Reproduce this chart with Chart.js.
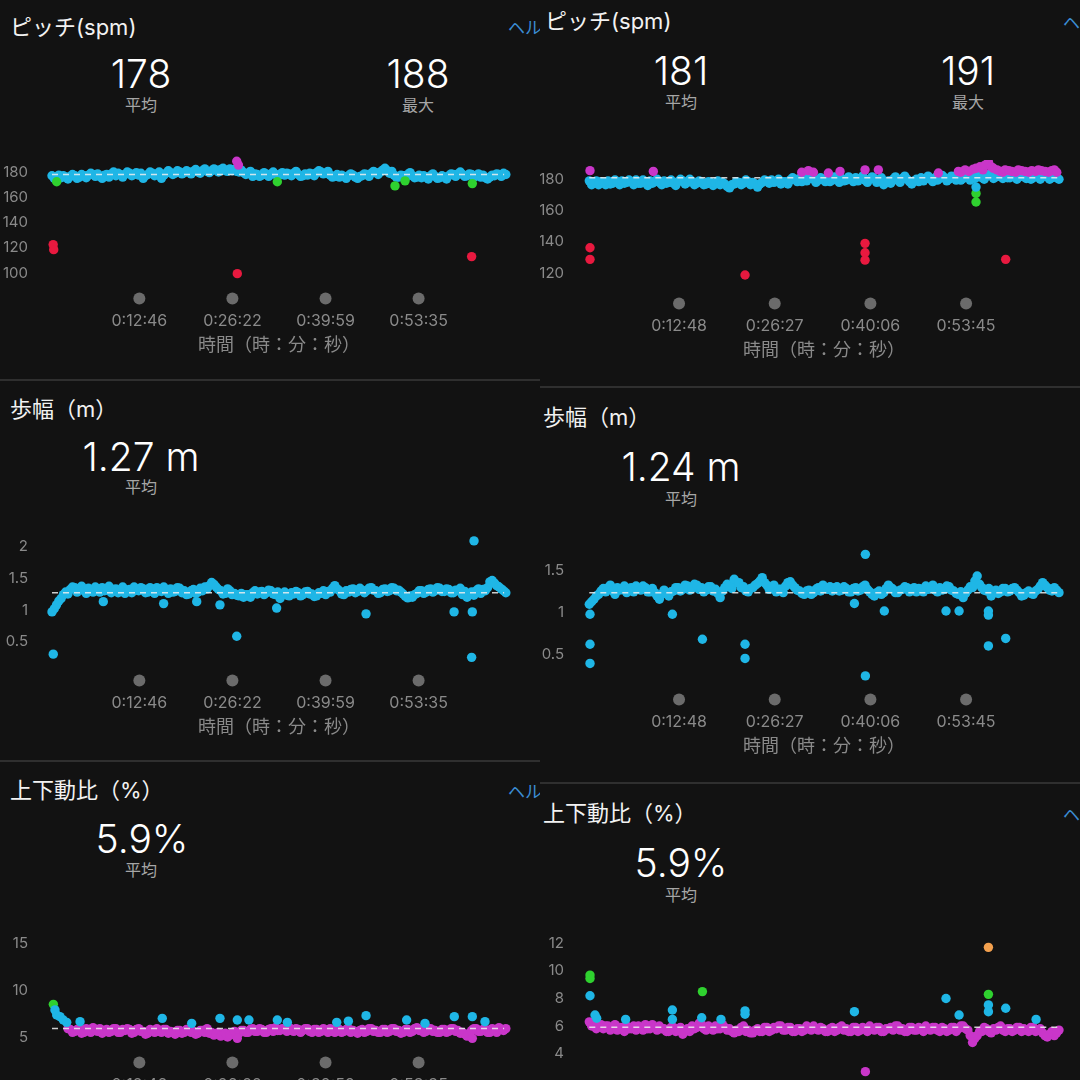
<!DOCTYPE html>
<html>
<head>
<meta charset="utf-8">
<script src="https://cdn.jsdelivr.net/npm/chart.js@4.4.1/dist/chart.umd.min.js"></script>
<style>
  html, body { margin:0; padding:0; width:1080px; height:1080px; overflow:hidden; background:#121212; }
  body { font-family:'Inter','Noto Sans CJK JP',sans-serif; }
  .col { position:absolute; top:0; width:540px; height:1080px; overflow:hidden; }
  .col canvas { position:absolute; left:0; }
  .hr { position:absolute; left:0; width:540px; height:2px; background:#2f2f2f; }
  .ttl { position:absolute; white-space:nowrap; transform:translateY(-50%); font-size:22px; color:#f2f2f2; line-height:1; }
  .tx { position:absolute; white-space:nowrap; transform:translate(-50%,-50%); line-height:1; }
  .big { font-size:39px; font-weight:300; color:#fff; }
  .sub { font-size:16px; color:#a6a6a6; }
  .help { position:absolute; white-space:nowrap; transform:translateY(-50%); font-size:17px; color:#3b8dd4; line-height:1; }
</style>
</head>
<body>
<div class="col" id="colL" style="left:0">
  <div class="ttl" style="left:10px;top:27px">ピッチ(spm)</div>
  <div class="help" style="left:508px;top:28px">ヘルプ</div>
  <div class="tx big" style="left:141px;top:73px">178</div>
  <div class="tx sub" style="left:141px;top:105px">平均</div>
  <div class="tx big" style="left:418px;top:73px">188</div>
  <div class="tx sub" style="left:418px;top:105px">最大</div>
  <canvas id="cadL" width="540" height="227" style="top:131px"></canvas>
  <div class="hr" style="top:379px"></div>

  <div class="ttl" style="left:10px;top:409px">歩幅（m）</div>
  <div class="tx big" style="left:141px;top:456px">1.27 m</div>
  <div class="tx sub" style="left:141px;top:487px">平均</div>
  <canvas id="strideL" width="540" height="234" style="top:506px"></canvas>
  <div class="hr" style="top:760px"></div>

  <div class="ttl" style="left:10px;top:790px">上下動比（%）</div>
  <div class="help" style="left:508px;top:792px">ヘルプ</div>
  <div class="tx big" style="left:142px;top:838px">5.9%</div>
  <div class="tx sub" style="left:141px;top:870px">平均</div>
  <canvas id="vrL" width="540" height="211" style="top:911px"></canvas>
</div>

<div class="col" id="colR" style="left:540px">
  <div class="ttl" style="left:5px;top:21px">ピッチ(spm)</div>
  <div class="help" style="left:523px;top:23px">ヘルプ</div>
  <div class="tx big" style="left:141px;top:70px">181</div>
  <div class="tx sub" style="left:141px;top:102px">平均</div>
  <div class="tx big" style="left:428px;top:70px">191</div>
  <div class="tx sub" style="left:428px;top:102px">最大</div>
  <canvas id="cadR" width="540" height="227" style="top:136px"></canvas>
  <div class="hr" style="top:386px"></div>

  <div class="ttl" style="left:3px;top:417px">歩幅（m）</div>
  <div class="tx big" style="left:141px;top:466px">1.24 m</div>
  <div class="tx sub" style="left:141px;top:499px">平均</div>
  <canvas id="strideR" width="540" height="243" style="top:516px"></canvas>
  <div class="hr" style="top:782px"></div>

  <div class="ttl" style="left:3px;top:813px">上下動比（%）</div>
  <div class="help" style="left:523px;top:815px">ヘルプ</div>
  <div class="tx big" style="left:141px;top:862px">5.9%</div>
  <div class="tx sub" style="left:141px;top:895px">平均</div>
  <canvas id="vrR" width="540" height="257" style="top:906px"></canvas>
</div>

<script>
// samples every 40 s; the *_B arrays are the in-between samples (offset 20 s)
const SAMPLE_SEC = 40;
const X_TICKS_L = [766, 1582, 2399, 3215];
const X_TICKS_R = [768, 1587, 2406, 3225];

// ---- pitch (spm), left run
const Y_TICKS_CAD_L = [100, 120, 140, 160, 180];
const CAD_L_AVG = 178;
const CAD_L = [177,176,175.5,176,176.5,177,176,177,177.5,178, 178.5,175,178,178.5,177,178,178,179,178,177.5,
  175,178,179,178.5,175,179,179.5,179,180,179.5, 180,180.5,180,181,180.5,181,181.5,182,181,182.5,
  182,180,179.5,179,176.5,178,177.5,178,178.5,178, 178,177.5,178.5,179,178,177,177.5,178.5,179.5,180,
  179,177.5,176.5,176,176.5,177,177.5,175,177,178, 179,179.5,180,183,179,177.5,176,177,178,177,
  176,175.5,176,177,176.5,175.5,176,177,178,178.5, 178,177,178,177,176,175.5,176,177,178,179];
const CAD_L_B = [175,177.5,177,174.5,178,175,178,175.5,179,176.5, 176.5,177.5,176,180,179,176,180,177,179.5,179,
  177,180,177,180,177.5,181,178,181,178.5,181, 178.5,182,179,182.5,179.5,182.5,180,183,180.5,181,
  180.5,181.5,178,180.5,178.5,176.5,179.5,176.5,180,176.5, 179.5,179,177,180.5,176.5,178.5,179,177,181,178.5,
  180.5,176,178,177.5,175,178.5,176,176.5,178.5,176.5, 180.5,178,181.5,181,180.5,176,177.5,175.5,179.5,175.5,
  177.5,177,174.5,178.5,175,177,174.5,178.5,176.5,180, 176.5,178.5,176,178.5,177.5,174.5,177.5,178.5,176.5,178];
const CAD_L_MAGENTA = [[1620,188.5],[1635,185.5]];
const CAD_L_GREEN = [[41,172.3],[1976,172.3],[3008,169],[3096,173],[3686,170.8]];
const CAD_L_RED = [[10,122.5],[15,118.5],[1625,99.5],[3680,113]];

// ---- pitch (spm), right run
const Y_TICKS_CAD_R = [120, 140, 160, 180];
const CAD_R_AVG = 181;
const CAD_R = [179,177.5,176.5,178,179,177.5,178.5,179,178,178.5, 179.5,177.5,178,179,178.5,178,179,178,177.5,178.5,
  179,178,178.5,177.5,178,177,178,177.5,176.5,177, 174.5,177,178,177.5,178.5,178,175,178,179,179.5,
  178.5,177,178.5,179.5,180,180.5,181,180.5,180,179.5, 180,180.5,179.5,180,180.5,179.5,180,181,180.5,179.5,
  180,180.5,179,176.5,179,180,179.5,180.5,180,177, 180,181,180.5,180,181,180.5,181,180,181.5,181,
  180.5,181.5,182,181.5,181,182,182.5,181.5,182,182.5, 181,181.5,182,181.5,182,181,181.5,182,181.5,181,181];
const CAD_R_B = [176.5,179,178.5,176.5,177,179.5,176.5,177.5,179.5,176.5, 177.5,179.5,176,177.5,180,176.5,177.5,179.5,176,180,
  177,180,176.5,179,176.5,178.5,176,179,178,175.5, 176.5,178.5,176.5,179.5,176.5,177,177,179.5,177.5,178,
  180,178.5,177,181,178.5,178.5,179,182,178,181, 178.5,178.5,181.5,178,179,181.5,178.5,179,182,178,
  181.5,178,181,178,177.5,181.5,178,182,178.5,179, 178.5,179,182,178.5,179.5,182.5,179,182,179.5,179.5,
  182.5,179.5,180.5,183,180,183,180.5,183,180.5,181, 183,180,183,180.5,180,183,180,183,180,182.5,180];
const CAD_R_MAGENTA = [[6,185.5],[548,185],[1818,184.5],[1875,185.5],[1918,184.5],[2046,184],[2146,185],[2360,186],
  [2474,186],[2988,184],[3159,185],[3180,184.5],[3216,186],[3250,185],[3287,186.5],[3310,187],[3344,188],[3370,186],
  [3387,189],[3416,191],[3440,188],[3459,187],[3490,186],[3516,185],[3540,184.5],[3559,186],[3590,185.5],[3616,185],
  [3650,184.5],[3672,186],[3700,185.5],[3730,185],[3760,184.5],[3787,185.5],[3820,185],[3844,186],[3870,185.5],
  [3901,185],[3930,184.5],[3958,185.5],[3980,186],[4001,184.5]];
const CAD_R_CYAN = [[3310,175]];
const CAD_R_GREEN = [[3310,171],[3310,165.5]];
const CAD_R_RED = [[6,136.3],[6,128.9],[1333,118.9],[2360,139.1],[2360,133.1],[2360,128.4],[3564,128.9]];

// ---- stride (m)
const Y_TICKS_STRIDE_L = [0.5, 1, 1.5, 2];
const STRIDE_L_AVG = 1.27;
const STRIDE_L = [0.97,1.08,1.18,1.28,1.32,1.35,1.33,1.3,1.34,1.28, 1.33,1.35,1.31,1.27,1.33,1.3,1.26,1.32,1.36,1.3,
  1.33,1.28,1.32,1.35,1.29,1.31,1.33,1.29,1.34,1.3, 1.25,1.32,1.28,1.3,1.33,1.43,1.36,1.3,1.26,1.3,
  1.26,1.22,1.2,1.24,1.27,1.25,1.29,1.27,1.3,1.24, 1.18,1.28,1.22,1.25,1.27,1.24,1.29,1.25,1.22,1.26,
  1.24,1.28,1.38,1.3,1.24,1.28,1.33,1.29,1.31,1.3, 1.35,1.3,1.27,1.33,1.3,1.34,1.31,1.25,1.19,1.2,
  1.26,1.3,1.28,1.33,1.3,1.34,1.29,1.32,1.27,1.3, 1.24,1.2,1.28,1.3,1.26,1.3,1.44,1.42,1.36,1.3];
const STRIDE_L_B = [1.02,1.14,1.24,1.25,1.36,1.28,1.37,1.26,1.31,1.36, 1.28,1.3,1.37,1.32,1.27,1.36,1.31,1.27,1.31,1.35,
  1.27,1.35,1.26,1.3,1.36,1.26,1.28,1.35,1.27,1.24, 1.3,1.26,1.34,1.36,1.38,1.4,1.32,1.25,1.33,1.24,
  1.23,1.26,1.24,1.2,1.3,1.28,1.24,1.31,1.25,1.28, 1.24,1.23,1.27,1.29,1.22,1.28,1.25,1.21,1.27,1.3,
  1.29,1.34,1.33,1.25,1.3,1.32,1.27,1.34,1.27,1.34, 1.31,1.26,1.32,1.29,1.35,1.3,1.28,1.21,1.22,1.24,
  1.3,1.26,1.32,1.28,1.35,1.29,1.33,1.27,1.31,1.34, 1.29,1.25,1.23,1.33,1.32,1.35,1.46,1.38,1.33,1.27];
const STRIDE_L_OUT = [[11,0.31],[450,1.13],[979,1.1],[1269,1.13],[1473,1.08],[1620,0.59],[1970,1.03],[2754,0.94],
  [3526,0.97],[3686,0.97],[3680,0.26],[3701,2.08]];

const Y_TICKS_STRIDE_R = [0.5, 1, 1.5];
const STRIDE_R_AVG = 1.24;
const STRIDE_R = [1.1,1.16,1.22,1.29,1.3,1.26,1.3,1.28,1.24,1.3, 1.32,1.27,1.3,1.25,1.24,1.16,1.27,1.2,1.26,1.3,
  1.28,1.32,1.29,1.33,1.3,1.27,1.31,1.28,1.18,1.3, 1.33,1.4,1.36,1.31,1.25,1.3,1.35,1.42,1.33,1.3,
  1.25,1.28,1.32,1.37,1.3,1.26,1.22,1.27,1.24,1.3, 1.33,1.28,1.26,1.31,1.27,1.29,1.25,1.3,1.27,1.33,
  1.25,1.2,1.26,1.24,1.33,1.28,1.24,1.28,1.3,1.27, 1.25,1.28,1.32,1.29,1.27,1.3,1.28,1.31,1.26,1.22,
  1.18,1.27,1.3,1.44,1.3,1.26,1.2,1.27,1.25,1.29, 1.26,1.3,1.24,1.21,1.26,1.22,1.28,1.36,1.3,1.26,1.27];
const STRIDE_R_B = [1.13,1.2,1.26,1.25,1.33,1.22,1.27,1.32,1.29,1.25, 1.28,1.32,1.25,1.29,1.2,1.22,1.23,1.25,1.3,1.26,
  1.33,1.27,1.34,1.28,1.25,1.31,1.26,1.23,1.26,1.34, 1.29,1.36,1.3,1.26,1.29,1.33,1.38,1.36,1.28,1.33,
  1.28,1.24,1.36,1.33,1.27,1.23,1.26,1.22,1.28,1.26, 1.29,1.31,1.3,1.26,1.31,1.25,1.29,1.26,1.31,1.28,
  1.22,1.24,1.22,1.29,1.3,1.24,1.27,1.31,1.25,1.3, 1.29,1.25,1.28,1.33,1.25,1.27,1.32,1.27,1.23,1.25,
  1.23,1.31,1.38,1.34,1.27,1.29,1.24,1.23,1.29,1.25, 1.29,1.27,1.2,1.24,1.23,1.26,1.32,1.33,1.27,1.3,1.24];
const STRIDE_R_OUT = [[6,0.98],[6,0.62],[6,0.39],[711,0.98],[968,0.68],[1333,0.62],[1333,0.45],[2269,1.11],
  [2363,1.7],[2363,0.24],[2525,1.02],[3053,1.02],[3165,1.02],[3416,1.02],[3416,0.97],[3416,0.6],[3564,0.69]];

// ---- vertical ratio (%)
const Y_TICKS_VR_L = [5, 10, 15];
const VR_L_AVG = 5.9;
const VR_L = [null,null,null,null,5.8,5.6,5.9,5.5,5.7,6.0, 5.6,5.4,5.8,5.6,5.9,5.5,5.7,5.8,5.5,5.9,
  5.6,5.4,5.7,5.9,5.5,5.8,5.6,5.3,5.7,5.5, 5.8,5.6,5.4,5.7,5.9,5.5,5.3,5.1,5.4,5.2,
  5.6,5.4,5.7,5.5,5.9,5.6,5.8,5.5,5.9,6.0, 5.7,5.8,6.0,5.6,5.8,5.7,5.9,5.5,5.8,5.6,
  5.7,5.9,5.5,5.8,5.6,5.9,5.7,5.4,5.8,5.6, 5.9,5.7,5.5,5.8,5.6,5.9,5.7,5.5,5.8,5.6,
  6.0,5.8,5.6,5.9,5.7,5.5,5.8,5.6,5.9,5.7, 5.5,5.1,5.7,5.9,5.6,5.8,5.5,5.7,6.0,5.7];
const VR_L_B = [null,null,null,5.9,5.5,5.8,5.4,5.9,5.5,5.7, 5.9,5.7,5.5,5.9,5.5,5.8,5.9,5.4,5.8,5.6,
  5.3,5.8,5.5,5.6,5.8,5.4,5.5,5.7,5.4,5.8, 5.5,5.3,5.7,5.5,5.4,5.2,5.5,5.3,5.0,5.5,
  5.3,5.7,5.5,5.8,5.6,5.9,5.5,5.8,5.6,5.7, 5.9,5.6,5.7,5.9,5.5,5.9,5.6,5.8,5.5,5.9,
  5.5,5.6,5.9,5.5,5.8,5.5,5.6,5.7,5.5,5.9, 5.6,5.5,5.8,5.5,5.9,5.6,5.4,5.8,5.5,5.9,
  5.7,5.5,5.9,5.6,5.5,5.8,5.5,5.9,5.6,5.4, 5.3,5.4,5.9,5.6,5.8,5.5,5.9,5.5,5.8,5.9];
const VR_L_CYAN = [[26,7.9],[41,7.36],[70,7.18],[99,6.82],[129,6.57],[246,6.64],[967,7.0],[1225,6.46],[1473,7.0],
  [1625,6.82],[1727,6.82],[1976,6.82],[2064,6.57],[2497,6.57],[2599,6.7],[2754,7.29],[3110,6.82],[3271,6.46],
  [3528,7.18],[3686,7.18],[3797,6.64]];
const VR_L_GREEN = [[12,8.5]];
const VR_L_MAGENTA = [[1625,4.86],[3686,4.86]];

const Y_TICKS_VR_R = [4, 6, 8, 10, 12];
const VR_R_AVG = 5.9;
const VR_R = [6.3,6.1,6.0,5.8,6.0,5.9,5.7,5.9,6.0,5.8, 5.7,5.9,6.1,5.8,5.9,6.0,5.8,5.6,5.9,5.7,
  5.4,5.8,6.0,5.9,6.1,5.7,5.9,6.0,5.8,5.9, 5.8,5.5,5.6,6.0,5.7,5.5,5.8,5.6,5.9,5.7,
  5.8,6.0,5.7,5.9,5.6,5.8,5.7,5.9,6.0,5.7, 5.8,5.6,5.9,5.7,6.0,5.8,5.6,5.9,5.7,5.8,
  6.0,5.7,5.9,5.6,5.8,5.7,6.0,5.8,5.6,5.9, 5.7,5.8,6.0,5.7,5.9,5.6,5.8,5.7,5.9,5.8,
  6.0,5.7,4.8,5.3,5.6,5.8,5.5,5.7,6.0,5.6, 5.8,5.7,5.9,5.8,5.6,5.9,5.7,5.5,5.2,5.6,5.5];
const VR_R_B = [6.0,5.8,6.1,6.0,5.7,6.1,5.9,5.6,5.8,6.0, 6.0,5.7,5.8,6.1,5.7,5.8,5.6,5.9,5.6,5.9,
  5.6,5.6,5.8,6.2,5.8,6.0,5.7,5.8,6.1,5.7, 5.6,5.7,5.9,5.6,5.5,5.7,5.6,5.9,5.6,5.9,
  6.0,5.7,5.9,5.6,5.8,5.6,6.0,5.7,5.8,5.9, 5.6,5.8,5.6,5.9,5.7,5.6,5.9,5.6,5.9,5.6,
  5.8,5.9,5.6,5.8,5.9,6.0,5.7,5.6,5.9,5.7, 5.9,5.6,5.8,5.9,5.7,5.9,5.6,5.9,5.6,6.0,
  5.8,5.3,5.1,5.6,5.9,5.6,5.8,5.9,5.7,5.8, 5.6,5.9,5.6,5.7,5.9,5.6,5.8,5.3,5.4,5.3,5.7];
const VR_R_CYAN = [[6,8.2],[49,6.8],[63,6.56],[311,6.48],[711,7.16],[711,6.48],[962,6.6],[1127,6.48],[1333,7.1],
  [1333,6.85],[2269,7.04],[3053,8.0],[3165,6.8],[3416,7.53],[3416,7.04],[3564,7.29],[3824,6.48]];
const VR_R_GREEN = [[6,9.7],[6,9.45],[968,8.5],[3416,8.3]];
const VR_R_ORANGE = [[3416,11.72]];
const VR_R_MAGENTA = [[2363,2.68]];

const C = { cyan:'#1fb6e6', magenta:'#c936c9', green:'#2fd12f', red:'#e8193f', orange:'#f3a04e' };
const FONT = "'Inter','Noto Sans CJK JP',sans-serif";

const fmtTime = s => `${Math.floor(s/3600)}:${String(Math.floor(s%3600/60)).padStart(2,'0')}:${String(s%60).padStart(2,'0')}`;
const series = (vals, off = 0) => vals.map((v,i) => v == null ? null : {x:i*SAMPLE_SEC + off, y:v}).filter(Boolean);
const pts = arr => arr.map(([x,y]) => ({x, y}));

// grey markers above the time labels
const tickDots = {
  id:'tickDots',
  afterDraw(chart) {
    const {ctx, chartArea, scales:{x}} = chart;
    ctx.save();
    ctx.fillStyle = '#6b6b6b';
    x.ticks.forEach(t => { ctx.beginPath(); ctx.arc(x.getPixelForValue(t.value), chartArea.bottom + 13.5, 6, 0, Math.PI*2); ctx.fill(); });
    ctx.restore();
  }
};

const LEFT  = { xTicks:X_TICKS_L, xMin:-52.6, xMax:4034, yw:46, padR:28, yPad:10, tEnd:3965 };
const RIGHT = { xTicks:X_TICKS_R, xMin:-45.4, xMax:4063, yw:44, padR:16, yPad:12, tEnd:4005 };

function makeChart(id, side, o) {
  const datasets = [
    { type:'line', data:[{x:0,y:o.avg},{x:side.tEnd,y:o.avg}], borderColor:'rgba(238,238,238,0.85)', borderWidth:1.5,
      borderDash:[6,5], pointRadius:0, order:0 },
    ...o.sets.map(s => ({ data:s.data, backgroundColor:s.color, pointRadius:4.7, pointHoverRadius:4.7, borderWidth:0, order:s.main ? 2 : 1 }))
  ];
  return new Chart(document.getElementById(id), {
    type:'scatter',
    data:{ datasets },
    plugins:[tickDots],
    options:{
      responsive:false, animation:false, devicePixelRatio:1,
      layout:{ padding:{ top:24, right:side.padR, bottom:0, left:0 } },
      plugins:{ legend:{display:false}, tooltip:{enabled:false} },
      scales:{
        x:{ type:'linear', min:side.xMin, max:side.xMax, grid:{display:false}, border:{display:false},
            afterBuildTicks: ax => { ax.ticks = side.xTicks.map(v => ({value:v})); },
            afterFit: ax => { ax.height = 73; },
            ticks:{ color:'#8a8a8a', font:{size:16, family:FONT}, padding:19, maxRotation:0, autoSkip:false, callback: v => fmtTime(v) },
            title:{ display:true, text:'時間（時：分：秒）', color:'#8a8a8a', font:{size:18, family:FONT}, padding:{top:0, bottom:2} } },
        y:{ min:o.yMin, max:o.yMax, grid:{display:false}, border:{display:false},
            afterBuildTicks: ax => { ax.ticks = o.yTicks.map(v => ({value:v})); },
            afterFit: ax => { ax.width = side.yw; },
            ticks:{ color:'#8a8a8a', font:{size:15, family:FONT}, padding:side.yPad, callback: v => String(v) } }
      }
    }
  });
}

const half = SAMPLE_SEC / 2;

makeChart('cadL', LEFT, { avg:CAD_L_AVG, yTicks:Y_TICKS_CAD_L, yMin:90.5, yMax:193.47, sets:[
  {data:series(CAD_L), color:C.cyan, main:true}, {data:series(CAD_L_B, half), color:C.cyan, main:true},
  {data:pts(CAD_L_MAGENTA), color:C.magenta}, {data:pts(CAD_L_GREEN), color:C.green}, {data:pts(CAD_L_RED), color:C.red} ]});

makeChart('cadR', RIGHT, { avg:CAD_R_AVG, yTicks:Y_TICKS_CAD_R, yMin:109.34, yMax:192.3, sets:[
  {data:series(CAD_R), color:C.cyan, main:true}, {data:series(CAD_R_B, half), color:C.cyan, main:true},
  {data:pts(CAD_R_MAGENTA), color:C.magenta}, {data:pts(CAD_R_CYAN), color:C.cyan},
  {data:pts(CAD_R_GREEN), color:C.green}, {data:pts(CAD_R_RED), color:C.red} ]});

makeChart('strideL', LEFT, { avg:STRIDE_L_AVG, yTicks:Y_TICKS_STRIDE_L, yMin:0.109, yMax:2.25, sets:[
  {data:series(STRIDE_L), color:C.cyan, main:true}, {data:series(STRIDE_L_B, half), color:C.cyan, main:true},
  {data:pts(STRIDE_L_OUT), color:C.cyan} ]});

makeChart('strideR', RIGHT, { avg:STRIDE_R_AVG, yTicks:Y_TICKS_STRIDE_R, yMin:0.119, yMax:1.872, sets:[
  {data:series(STRIDE_R), color:C.cyan, main:true}, {data:series(STRIDE_R_B, half), color:C.cyan, main:true},
  {data:pts(STRIDE_R_OUT), color:C.cyan} ]});

makeChart('vrL', LEFT, { avg:VR_L_AVG, yTicks:Y_TICKS_VR_L, yMin:3.714, yMax:15.93, sets:[
  {data:series(VR_L), color:C.magenta, main:true}, {data:series(VR_L_B, half), color:C.magenta, main:true},
  {data:pts(VR_L_CYAN), color:C.cyan}, {data:pts(VR_L_GREEN), color:C.green}, {data:pts(VR_L_MAGENTA), color:C.magenta} ]});

makeChart('vrR', RIGHT, { avg:VR_R_AVG, yTicks:Y_TICKS_VR_R, yMin:1.345, yMax:12.98, sets:[
  {data:series(VR_R), color:C.magenta, main:true}, {data:series(VR_R_B, half), color:C.magenta, main:true},
  {data:pts(VR_R_CYAN), color:C.cyan}, {data:pts(VR_R_GREEN), color:C.green},
  {data:pts(VR_R_ORANGE), color:C.orange}, {data:pts(VR_R_MAGENTA), color:C.magenta} ]});
</script>
</body>
</html>
